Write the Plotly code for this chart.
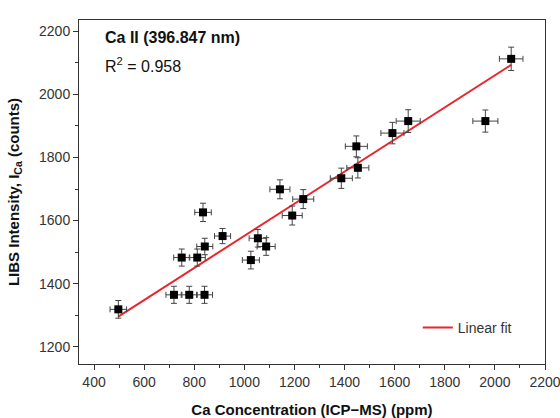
import plotly.graph_objects as go

# Data
ca_ppm = [497, 719, 780, 841, 750, 812, 842, 913, 835, 1026, 1054, 1087,
          1142, 1191, 1235, 1387, 1453, 1447, 1591, 1654, 1962, 2065]
libs_counts = [1319, 1365, 1365, 1365, 1483, 1483, 1518, 1551, 1626, 1475, 1544, 1518,
               1699, 1616, 1668, 1734, 1767, 1835, 1877, 1915, 1915, 2112]
ca_err = [33, 32, 32, 32, 32, 32, 32, 32, 33, 34, 35, 36,
          40, 40, 42, 44, 44, 44, 46, 48, 50, 47]
libs_err = [28, 27, 27, 27, 27, 27, 26, 24, 29, 28, 28, 28,
            30, 30, 30, 32, 32, 33, 34, 36, 35, 37]
fit_x = [497, 2065]
fit_y = [1296, 2093]

x_ticks = [400, 600, 800, 1000, 1200, 1400, 1600, 1800, 2000, 2200]
y_ticks = [1200, 1400, 1600, 1800, 2000, 2200]

FONT = "Liberation Sans, Arial, sans-serif"

fig = go.Figure()
fig.add_trace(go.Scatter(
    x=fit_x, y=fit_y, mode="lines", name="Linear fit",
    line=dict(color="#e8262b", width=2), showlegend=True))
fig.add_trace(go.Scatter(
    x=ca_ppm, y=libs_counts, mode="markers", showlegend=False,
    marker=dict(symbol="square", size=8, color="black"),
    error_x=dict(type="data", array=ca_err, color="#444", thickness=1, width=3),
    error_y=dict(type="data", array=libs_err, color="#444", thickness=1, width=3)))

fig.add_annotation(x=0.0515, y=0.948, xref="paper", yref="paper", xanchor="left", yanchor="middle",
                   text="<b>Ca II (396.847 nm)</b>", showarrow=False,
                   font=dict(family=FONT, size=16, color="#111"))
fig.add_annotation(x=0.0515, y=0.869, xref="paper", yref="paper", xanchor="left", yanchor="middle",
                   text="R<sup>2</sup> = 0.958", showarrow=False,
                   font=dict(family=FONT, size=16, color="#111"))

axis_common = dict(
    showgrid=False, zeroline=False, showline=True, linecolor="#333", linewidth=1,
    mirror=True, ticks="outside", ticklen=5, tickwidth=1, tickcolor="#333",
    tickfont=dict(family=FONT, size=14, color="#333"), automargin=False,
    ticklabeloverflow="allow",
    minor=dict(ticks="outside", ticklen=3, tickcolor="#333", tickwidth=1),
)

fig.update_xaxes(range=[340, 2200], tickvals=x_ticks, ticktext=[str(v) for v in x_ticks],
                 minor_dtick=100,
                 title=dict(text="<b>Ca Concentration (ICP−MS) (ppm)</b>",
                            font=dict(family=FONT, size=15, color="#111")),
                 **axis_common)
fig.update_yaxes(range=[1146, 2235], tickvals=y_ticks, ticktext=[str(v) for v in y_ticks],
                 minor_dtick=100,
                 title=dict(text="<b>LIBS Intensity, I<sub>Ca</sub> (counts)</b>",
                            font=dict(family=FONT, size=15, color="#111")),
                 **axis_common)

fig.update_layout(
    width=560, height=418,
    margin=dict(l=79, r=15, t=20, b=54),
    paper_bgcolor="white", plot_bgcolor="white",
    legend=dict(x=0.727, y=0.105, xanchor="left", yanchor="middle",
                bgcolor="rgba(0,0,0,0)", font=dict(family=FONT, size=14, color="#333")),
)

fig.write_html("out.html", config={"displayModeBar": False},
               post_script="document.body.style.margin='0px';")
